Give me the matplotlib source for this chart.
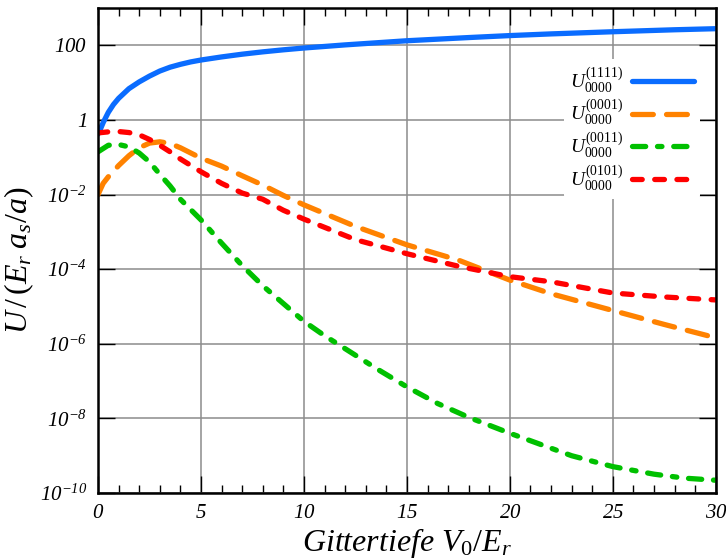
import matplotlib
matplotlib.use('Agg')
import matplotlib.pyplot as plt
import numpy as np

plt.rcParams['font.family'] = ['Liberation Serif', 'DejaVu Serif']
plt.rcParams['mathtext.fontset'] = 'custom'
plt.rcParams['mathtext.rm'] = 'Liberation Serif'
plt.rcParams['mathtext.it'] = 'Liberation Serif:italic'
plt.rcParams['mathtext.bf'] = 'Liberation Serif:bold'
# italic digits for tick labels go through \mathsf
plt.rcParams['mathtext.sf'] = 'Liberation Serif:italic'
plt.rcParams['lines.scale_dashes'] = False

# ---- data ----
x_1111 = [0, 0.1, 0.25, 0.5, 0.75, 1, 1.5, 2, 2.5, 3, 3.5, 4, 4.5, 5, 6, 7, 8, 9, 10, 12, 15,
          18, 20, 22, 25, 28, 30]
u_1111 = [0.42, 0.54, 0.85, 1.6, 2.6, 3.8, 6.9, 10.5, 15, 20.5, 26, 31, 36, 40.5, 49, 58, 67, 76,
          85, 103, 133, 162, 183, 203, 232, 262, 280]

x_0001 = [0, 0.25, 0.5, 0.75, 1, 1.5, 2, 2.5, 3, 3.5, 4, 5, 6, 7, 8, 9, 10, 12.5, 15, 17.5, 20, 22, 25, 27.5, 30]
u_0001 = [0.01, 0.02, 0.03, 0.042, 0.06, 0.11, 0.18, 0.24, 0.26, 0.235, 0.18, 0.095, 0.058, 0.032,
          0.018, 0.0095, 0.0053, 1.4e-3, 4.5e-4, 1.75e-4, 5.1e-5, 2.2e-5, 7.8e-6, 3.3e-6, 1.45e-6]

x_0011 = [0, 0.5, 1, 1.5, 2, 2.5, 3, 3.5, 4, 5, 6, 7, 8, 9, 10, 11, 12, 13.5, 15, 16.5, 18, 20,
          21.5, 23, 25, 27, 28.5, 30]
u_0011 = [0.14, 0.21, 0.22, 0.19, 0.13, 0.075, 0.035, 0.017, 0.0075, 2.1e-3, 5e-4, 1.25e-4, 3.6e-5,
          1.2e-5, 4e-6, 1.65e-6, 7.4e-7, 2.2e-7, 7e-8, 2.5e-8, 1.07e-8, 4e-9, 2e-9, 1e-9, 5.1e-10,
          3.2e-10, 2.5e-10, 2.2e-10]

x_0101 = [0, 0.5, 1, 1.5, 2, 2.5, 3, 3.5, 4, 5, 6, 7, 8, 9, 10, 12.5, 15, 17.5, 20, 22, 25, 27.5, 30]
u_0101 = [0.45, 0.48, 0.49, 0.46, 0.4, 0.3, 0.21, 0.14, 0.09, 0.041, 0.02, 0.011, 0.0075, 0.0038,
          0.0022, 6.2e-4, 2.6e-4, 1.2e-4, 6.3e-5, 4.6e-5, 2.3e-5, 1.8e-5, 1.5e-5]

labels = [r'$U^{(1111)}_{0000}$', r'$U^{(0001)}_{0000}$', r'$U^{(0011)}_{0000}$', r'$U^{(0101)}_{0000}$']
colors = ['#0a6cff', '#ff8200', '#00c000', '#ff0000']

yticks = [1e-10, 1e-8, 1e-6, 1e-4, 1e-2, 1, 100]
ytick_labels = [r'$\mathsf{10^{-10}}$', r'$\mathsf{10^{-8}}$', r'$\mathsf{10^{-6}}$',
                r'$\mathsf{10^{-4}}$', r'$\mathsf{10^{-2}}$', r'$\mathsf{1}$', r'$\mathsf{100}$']
xticks = [0, 5, 10, 15, 20, 25, 30]

fig = plt.figure(figsize=(7.26, 5.6), dpi=100)
ax = fig.add_axes([0.135, 0.1196, 0.851, 0.866])

lw = 3.8
ax.plot(x_1111, u_1111, color=colors[0], lw=lw, solid_capstyle='round', label=labels[0])
ax.plot(x_0001, u_0001, color=colors[1], lw=lw, dash_capstyle='round',
        dashes=(15, 9.5), label=labels[1])
ax.plot(x_0011, u_0011, color=colors[2], lw=lw, dash_capstyle='round',
        dashes=(9.5, 8.5, 3.2, 8.5), label=labels[2])
ax.plot(x_0101, u_0101, color=colors[3], lw=lw, dash_capstyle='round',
        dashes=(7, 9), label=labels[3])

ax.set_yscale('log')
ax.set_xlim(0, 30)
ax.set_ylim(1e-10, 1e3)
ax.set_yticks(yticks)
ax.set_yticklabels(ytick_labels)
ax.yaxis.set_minor_locator(matplotlib.ticker.NullLocator())
ax.set_xticks(xticks)
ax.set_xticklabels([r'$\mathsf{%d}$' % t for t in xticks])
ax.set_xticks(np.arange(0, 31, 1), minor=True)

ax.grid(True, which='major', color='#8c8c8c', lw=1.1)
ax.set_axisbelow(True)
for s in ax.spines.values():
    s.set_linewidth(1.8)

ax.tick_params(which='major', direction='in', length=12, width=1.0, labelsize=15,
               top=True, right=True, pad=8)
ax.tick_params(which='minor', direction='in', length=6, width=1.0, top=True, right=True)

ax.set_xlabel(r'$\mathit{Gittertiefe}\ V_0/E_r$', fontsize=23, labelpad=2)
ax.set_ylabel(r'$U\,/\,(E_r\;a_s/a)$', fontsize=23)
ax.yaxis.set_label_coords(-0.1, 0.48)

leg = ax.legend(loc='upper right', bbox_to_anchor=(0.99, 0.915), markerfirst=False,
                frameon=True, fontsize=14, handlelength=3.2, labelspacing=0.15,
                borderpad=0.3, handletextpad=0.45)
leg.get_frame().set_edgecolor('none')
leg.get_frame().set_facecolor('white')
leg.get_frame().set_alpha(1.0)

fig.savefig('out.png', dpi=100)
